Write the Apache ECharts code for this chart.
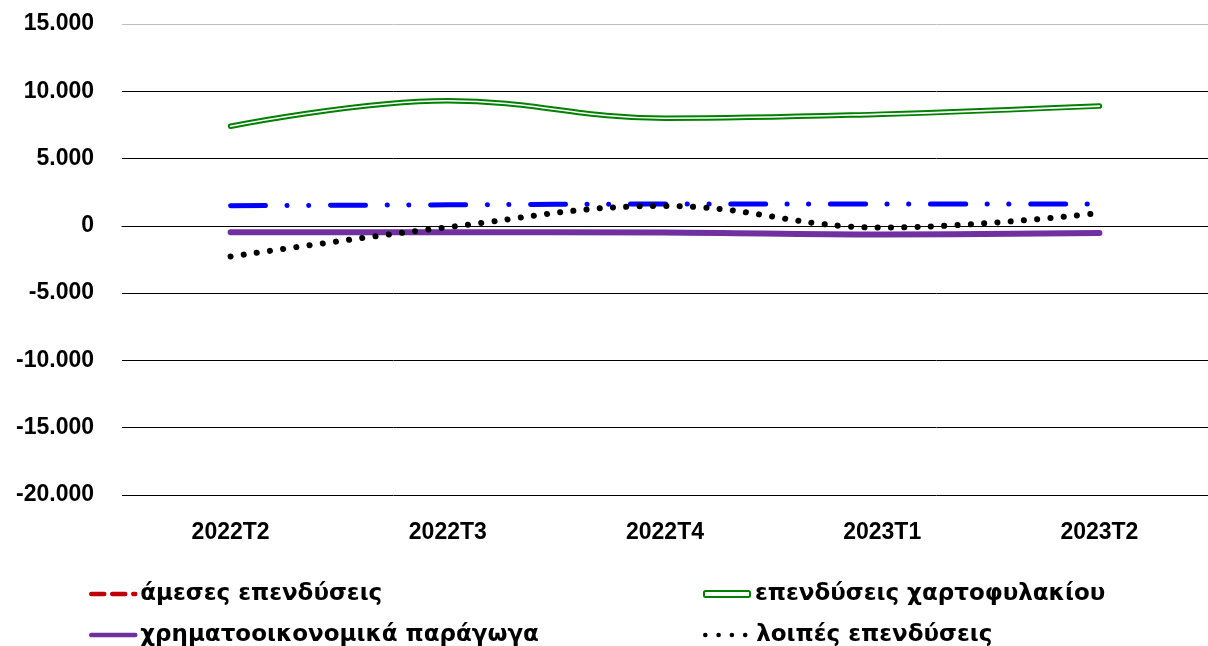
<!DOCTYPE html>
<html>
<head>
<meta charset="utf-8">
<script src="https://cdn.jsdelivr.net/npm/echarts@6/dist/echarts.min.js"></script>
<style>
  html, body { margin: 0; padding: 0; background: #fff; }
  #chart { width: 1208px; height: 646px; }
</style>
</head>
<body>
<div id="chart"></div>
<script>
var quarters = ['2022T2', '2022T3', '2022T4', '2023T1', '2023T2']
var yTicks = [-20000, -15000, -10000, -5000, 0, 5000, 10000, 15000]

// values
var directValues = [null, null, null, null, null]          // άμεσες επενδύσεις (not visible)
var portfolioValues = [7400, 9300, 8000, 8300, 8900]       // επενδύσεις χαρτοφυλακίου
var derivativeValues = [-470, -470, -500, -650, -540]      // χρηματοοικονομικά παράγωγα
var otherValues = [-2280, -100, 1480, -130, 950]           // λοιπές επενδύσεις
var extraValues = [1500, 1560, 1620, 1620, 1620]           // blue dash-dot line, no legend entry

var fontFamily = '"Liberation Sans", Arial, sans-serif'
var legendFont = '"DejaVu Sans", "Liberation Sans", sans-serif'
var labelColor = '#000'

function fmt(v) {
  var s = String(Math.abs(v)).replace(/\B(?=(\d{3})+(?!\d))/g, '.')
  return (v < 0 ? '-' : '') + s
}

var chart = echarts.init(document.getElementById('chart'))

// one legend per entry so the two columns line up like the original
function legendItem(item, left, top, w, h) {
  return {
    left: left,
    top: top,
    padding: 0,
    itemWidth: w,
    itemHeight: h,
    itemStyle: { opacity: 0 },
    lineStyle: { width: 4.5, cap: 'round' },
    textStyle: {
      color: labelColor,
      fontFamily: legendFont,
      fontWeight: 'bold',
      fontSize: 23,
      lineHeight: 26
    },
    data: [item]
  }
}

var option = {
  animation: false,
  grid: {
    left: 122,
    right: -12,
    top: 24,
    bottom: 151,
    containLabel: false
  },
  legend: [
    legendItem('άμεσες επενδύσεις', 89, 581, 44, 12),
    legendItem('χρηματοοικονομικά παράγωγα', 89, 622, 44, 12),
    legendItem({
      name: 'επενδύσεις χαρτοφυλακίου',
      icon: 'roundRect',
      itemStyle: { color: '#fff', borderColor: '#008000', borderWidth: 2, opacity: 1 }
    }, 703, 581, 46, 6),
    legendItem('λοιπές επενδύσεις', 703, 622, 46, 12)
  ],
  xAxis: {
    type: 'category',
    data: quarters,
    boundaryGap: true,
    axisLine: { show: true, lineStyle: { color: '#000', width: 1 } },
    axisTick: { show: false },
    axisLabel: {
      color: labelColor,
      fontFamily: fontFamily,
      fontWeight: 'bold',
      fontSize: 23,
      margin: 26
    }
  },
  yAxis: {
    type: 'value',
    min: yTicks[0],
    max: yTicks[yTicks.length - 1],
    interval: 5000,
    axisLine: { show: false },
    axisTick: { show: false },
    axisLabel: {
      color: labelColor,
      fontFamily: fontFamily,
      fontWeight: 'bold',
      fontSize: 23,
      margin: 28,
      formatter: fmt
    },
    splitLine: {
      show: true,
      lineStyle: {
        color: ['#000', '#000', '#000', '#000', '#000', '#000', '#000', '#bfbfbf'],
        width: 1
      }
    }
  },
  series: [
    {
      name: 'άμεσες επενδύσεις',
      type: 'line',
      data: directValues,
      symbol: 'none',
      smooth: 0.4,
      lineStyle: { color: '#C00000', width: 4.5, type: [13, 8], cap: 'round' },
      itemStyle: { color: '#C00000' }
    },
    {
      name: 'extra',
      type: 'line',
      data: extraValues,
      symbol: 'none',
      smooth: 0.4,
      z: 3,
      lineStyle: { color: '#0000FF', width: 5, type: [35, 21.5, 0.1, 21.5, 0.1, 21.8], cap: 'round' },
      itemStyle: { color: '#0000FF' }
    },
    {
      name: 'επενδύσεις χαρτοφυλακίου',
      type: 'line',
      data: portfolioValues,
      symbol: 'none',
      smooth: 0.4,
      z: 4,
      lineStyle: { color: '#008000', width: 5.5, cap: 'round' },
      itemStyle: { color: '#008000' }
    },
    {
      name: 'portfolio-inner',
      type: 'line',
      data: portfolioValues,
      symbol: 'none',
      smooth: 0.4,
      z: 5,
      silent: true,
      lineStyle: { color: '#fff', width: 1.6, cap: 'round' },
      itemStyle: { color: '#fff' }
    },
    {
      name: 'χρηματοοικονομικά παράγωγα',
      type: 'line',
      data: derivativeValues,
      symbol: 'none',
      smooth: 0.4,
      z: 3,
      lineStyle: { color: '#7030A0', width: 6, cap: 'round' },
      itemStyle: { color: '#7030A0' }
    },
    {
      name: 'λοιπές επενδύσεις',
      type: 'line',
      data: otherValues,
      symbol: 'none',
      smooth: 0.4,
      z: 6,
      lineStyle: { color: '#000', width: 6, type: [0.1, 13.2], cap: 'round' },
      itemStyle: { color: '#000' }
    }
  ]
}

chart.setOption(option)
</script>
</body>
</html>
